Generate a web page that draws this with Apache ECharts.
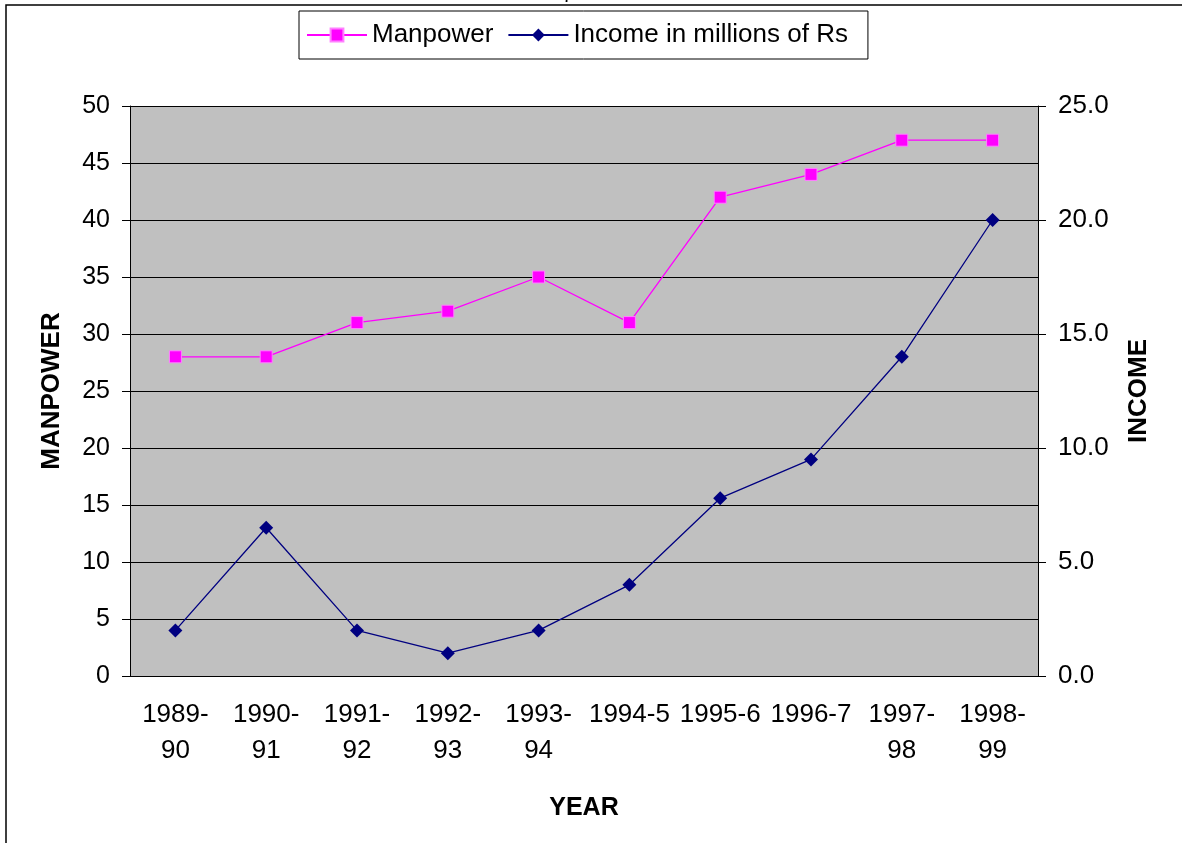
<!DOCTYPE html>
<html>
<head>
<meta charset="utf-8">
<script src="https://cdn.jsdelivr.net/npm/echarts@6/dist/echarts.min.js"></script>
<style>
  html, body { margin: 0; padding: 0; background: #fff; }
  #chart { width: 1182px; height: 843px; }
</style>
</head>
<body>
<div id="chart"></div>
<script>
  // data
  const years = ['1989-\n90', '1990-\n91', '1991-\n92', '1992-\n93', '1993-\n94',
    '1994-5', '1995-6', '1996-7', '1997-\n98', '1998-\n99']
  const manpower = [28, 28, 31, 32, 35, 31, 42, 44, 47, 47]
  const income = [2.0, 6.5, 2.0, 1.0, 2.0, 4.0, 7.8, 9.5, 14.0, 20.0]

  const font = 'Liberation Sans, Arial, sans-serif'
  const chart = echarts.init(document.getElementById('chart'))

  const option = {
    backgroundColor: '#fff',
    animation: false,
    textStyle: { fontFamily: font },
    graphic: [
      {
        type: 'rect',
        shape: { x: 6, y: 5, width: 1400, height: 1000 },
        style: { fill: 'none', stroke: '#000', lineWidth: 1.5 },
        silent: true
      },
      {
        type: 'text',
        left: 562, top: -14,
        style: { text: '7', font: '20px ' + font, fill: '#000' },
        silent: true
      }
    ],
    legend: {
      left: 299,
      top: 11,
      padding: [11, 20, 11, 7],
      itemWidth: 60,
      itemHeight: 16,
      itemGap: 14,
      borderColor: '#000',
      borderWidth: 1,
      textStyle: { fontSize: 26, color: '#000', fontFamily: font },
      data: ['Manpower', 'Income in millions of Rs']
    },
    grid: {
      left: 130,
      right: 144,
      top: 106,
      bottom: 167,
      show: true,
      backgroundColor: '#C0C0C0',
      borderWidth: 0
    },
    xAxis: {
      type: 'category',
      data: years,
      name: 'YEAR',
      nameLocation: 'middle',
      nameGap: 120,
      nameTextStyle: { fontSize: 25, fontWeight: 'bold', color: '#000', fontFamily: font },
      axisLine: { lineStyle: { color: '#000', width: 1 } },
      axisTick: { length: 8, lineStyle: { color: '#000' } },
      axisLabel: { fontSize: 26, color: '#000', margin: 21, lineHeight: 36, interval: 0, fontFamily: font }
    },
    yAxis: [
      {
        type: 'value',
        min: 0,
        max: 50,
        interval: 5,
        name: 'MANPOWER',
        nameLocation: 'middle',
        nameRotate: 90,
        nameGap: 65,
        nameTextStyle: { fontSize: 26, fontWeight: 'bold', color: '#000', fontFamily: font },
        axisLine: { show: true, lineStyle: { color: '#000' } },
        axisTick: { show: true, length: 8, lineStyle: { color: '#000' } },
        axisLabel: { fontSize: 25, color: '#000', margin: 20, fontFamily: font },
        splitLine: { show: true, lineStyle: { color: '#000', width: 1 } }
      },
      {
        type: 'value',
        min: 0,
        max: 25,
        interval: 5,
        name: 'INCOME',
        nameLocation: 'middle',
        nameRotate: 90,
        nameGap: 88,
        nameTextStyle: { fontSize: 26, fontWeight: 'bold', color: '#000', fontFamily: font },
        axisLine: { show: true, lineStyle: { color: '#000' } },
        axisTick: { show: true, length: 8, lineStyle: { color: '#000' } },
        axisLabel: {
          fontSize: 26, color: '#000', margin: 20, fontFamily: font,
          formatter: v => v.toFixed(1)
        },
        splitLine: { show: false }
      }
    ],
    series: [
      {
        name: 'Manpower',
        type: 'line',
        yAxisIndex: 0,
        data: manpower,
        symbol: 'rect',
        symbolSize: 12,
        color: '#FF00FF',
        lineStyle: { color: '#FF00FF', width: 1.3 },
        itemStyle: { color: '#FF00FF', borderColor: '#FF80FF', borderWidth: 1 }
      },
      {
        name: 'Income in millions of Rs',
        type: 'line',
        yAxisIndex: 1,
        data: income,
        symbol: 'diamond',
        symbolSize: 14,
        color: '#000080',
        lineStyle: { color: '#000080', width: 1.3 },
        itemStyle: { color: '#000080' }
      }
    ]
  }

  chart.setOption(option)
</script>
</body>
</html>
